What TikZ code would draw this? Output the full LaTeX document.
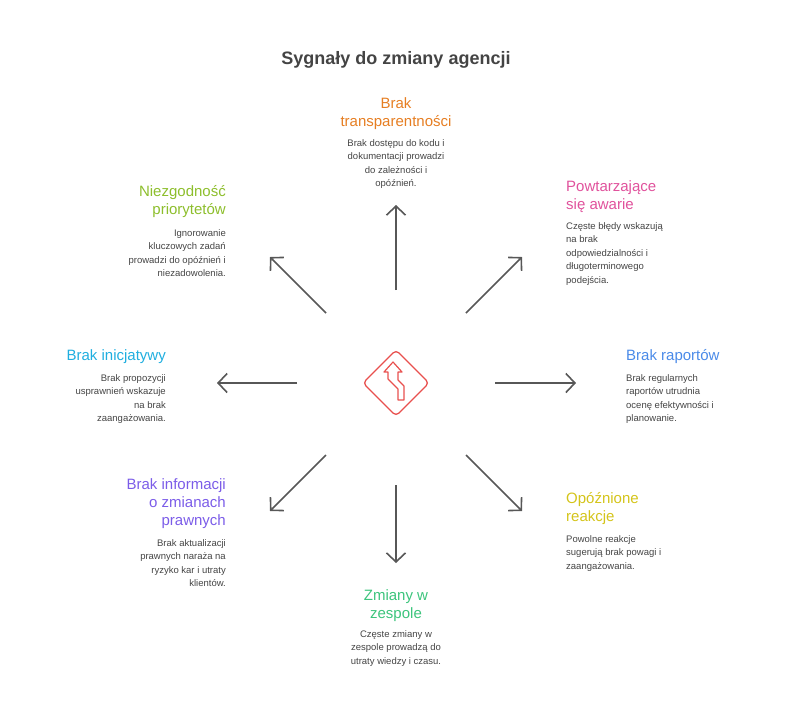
\documentclass[tikz,border=0pt]{standalone}
\usepackage{fontspec}
\setmainfont{Liberation Sans}
\usetikzlibrary{arrows.meta}
\definecolor{ctrans}{HTML}{E67E22}
\definecolor{cawar}{HTML}{E0529C}
\definecolor{craport}{HTML}{4A8AE8}
\definecolor{creakc}{HTML}{D4C41A}
\definecolor{czesp}{HTML}{3CC47C}
\definecolor{cpraw}{HTML}{7B5CE8}
\definecolor{cinic}{HTML}{1FAEDF}
\definecolor{cprior}{HTML}{8DBE2C}
\definecolor{cdesc}{HTML}{444444}
\definecolor{cicon}{HTML}{E8504E}
\tikzset{
  head/.style={font=\fontsize{15}{18}\selectfont, inner sep=0pt},
  desc/.style={font=\fontsize{9.5}{13.5}\selectfont, text=cdesc, inner sep=0pt},
  pointer/.style={draw=cdesc!90, line width=1.6pt, -{Straight Barb[length=9pt,width=19pt,line width=1.6pt]}}
}
\begin{document}
\begin{tikzpicture}[x=1pt,y=-1pt]
            \useasboundingbox (0,0) rectangle (792,721);
            \coordinate (O) at (396,383);

            \node[font=\bfseries\fontsize{18}{22}\selectfont, text=cdesc] (title) at (396,60) {Sygnały do zmiany agencji};

            % strzalki
            \coordinate (n1) at (396,290); \coordinate (n2) at (396,205);
            \coordinate (s1) at (396,485); \coordinate (s2) at (396,563);
            \coordinate (w1) at (297,383); \coordinate (w2) at (217,383);
            \coordinate (e1) at (495,383); \coordinate (e2) at (576,383);
            \coordinate (nw1) at (326,313); \coordinate (nw2) at (270,257);
            \coordinate (ne1) at (466,313); \coordinate (ne2) at (522,257);
            \coordinate (sw1) at (326,455); \coordinate (sw2) at (270,511);
            \coordinate (se1) at (466,455); \coordinate (se2) at (522,511);
            \foreach \d in {n,s,w,e,nw,ne,sw,se}
                \draw[pointer] (\d1) -- (\d2);

            % ikona
            \draw[cicon, line width=1.3pt, rounded corners=4pt] (363,383) -- (396,350) -- (429,383) -- (396,416) -- cycle;
            \draw[cicon, line width=1.2pt, line join=round]
                (388,372) -- (384,372) -- (393,362) -- (402,372) -- (398,372)
                -- (398,380) -- (404,386) -- (404,400) -- (398,400) -- (398,389)
                -- (388,379) -- cycle;

            % etykiety
            \node[head, text=ctrans, align=center, anchor=north] (t1) at (396,97) {Brak\\transparentności};
            \node[desc, align=center, anchor=north] (d1) at (396,139) {Brak dostępu do kodu i\\dokumentacji prowadzi\\do zależności i\\opóźnień.};

            \node[head, text=cawar, align=left, anchor=north west] (t2) at (566,180) {Powtarzające\\się awarie};
            \node[desc, align=left, anchor=north west] (d2) at (566,222) {Częste błędy wskazują\\na brak\\odpowiedzialności i\\długoterminowego\\podejścia.};

            \node[head, text=craport, align=left, anchor=north west] (t3) at (626,349) {Brak raportów};
            \node[desc, align=left, anchor=north west] (d3) at (626,374) {Brak regularnych\\raportów utrudnia\\ocenę efektywności i\\planowanie.};

            \node[head, text=creakc, align=left, anchor=north west] (t4) at (566,492) {Opóźnione\\reakcje};
            \node[desc, align=left, anchor=north west] (d4) at (566,535) {Powolne reakcje\\sugerują brak powagi i\\zaangażowania.};

            \node[head, text=czesp, align=center, anchor=north] (t5) at (396,589) {Zmiany w\\zespole};
            \node[desc, align=center, anchor=north] (d5) at (396,630) {Częste zmiany w\\zespole prowadzą do\\utraty wiedzy i czasu.};

            \node[head, text=cpraw, align=right, anchor=north east] (t6) at (226,478) {Brak informacji\\o zmianach\\prawnych};
            \node[desc, align=right, anchor=north east] (d6) at (226,539) {Brak aktualizacji\\prawnych naraża na\\ryzyko kar i utraty\\klientów.};

            \node[head, text=cinic, align=right, anchor=north east] (t7) at (166,349) {Brak inicjatywy};
            \node[desc, align=right, anchor=north east] (d7) at (166,374) {Brak propozycji\\usprawnień wskazuje\\na brak\\zaangażowania.};

            \node[head, text=cprior, align=right, anchor=north east] (t8) at (226,185) {Niezgodność\\priorytetów};
            \node[desc, align=right, anchor=north east] (d8) at (226,229) {Ignorowanie\\kluczowych zadań\\prowadzi do opóźnień i\\niezadowolenia.};
\end{tikzpicture}
\end{document}
